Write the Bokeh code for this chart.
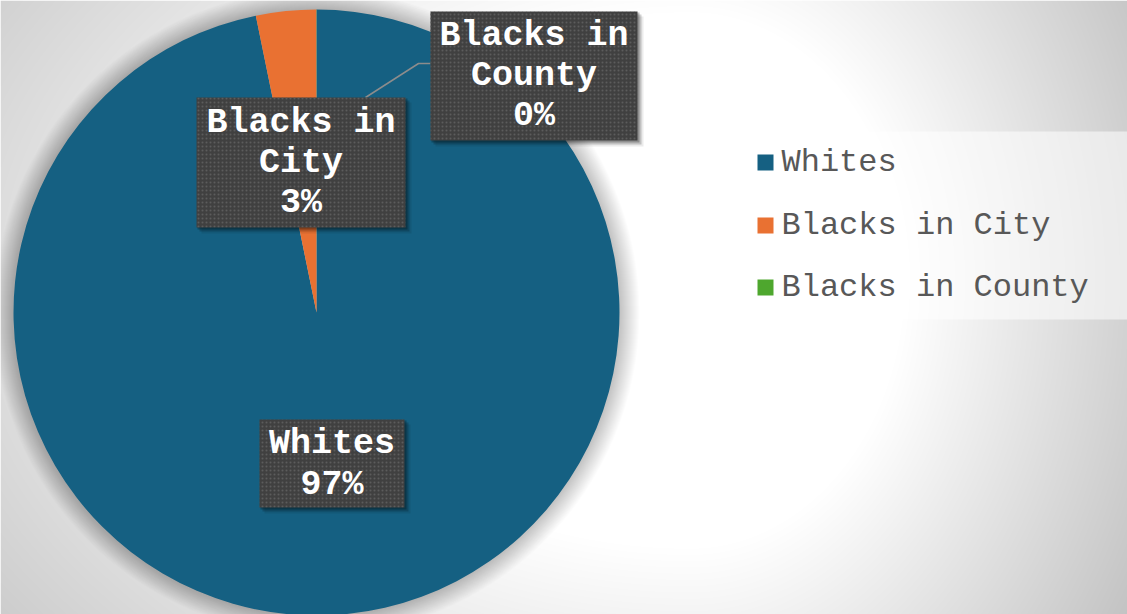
import numpy as np
from bokeh.plotting import figure
from bokeh.models import Range1d
from bokeh.core.properties import value
from bokeh.embed import file_html
from bokeh.resources import INLINE

# ---- data ----
categories = ["Whites", "Blacks in City", "Blacks in County"]
shares = [96.79, 3.20, 0.01]
colors = ["#156082", "#E97132", "#4EA72E"]
label_lines = [["Whites"], ["Blacks in", "City"], ["Blacks in", "County"]]

# ---- layout (screen pixel coordinates of the 1127x614 window) ----
W, H = 1127, 614
def Y(sy):
    return H - sy

pie_cx, pie_cy, pie_r = 316, 312, 303
# label boxes: (left, top, right, bottom), first text line y, line step
boxes = [
    (259, 419, 404, 507, 443, 41),
    (196, 97, 405, 227, 122, 40),
    (430, 11, 637, 140, 35, 40),
]

p = figure(width=W, height=H, output_backend="svg", toolbar_location=None,
           x_range=Range1d(0, W), y_range=Range1d(0, H), min_border=0,
           x_axis_location=None, y_axis_location=None)
p.grid.visible = False
p.outline_line_color = None
p.background_fill_color = "#ffffff"
p.border_fill_color = "#ffffff"

# ---- background gradient ----
xs = np.arange(0, W) + 0.5
ys_data = np.arange(0, H) + 0.5
X, YY = np.meshgrid(xs, ys_data)
SY = H - YY
gx, gy = 690.0, 280.0
dx = X - gx
dx = np.where(dx < 0, dx * 0.55, dx)
dy = (SY - gy) * 0.8
d = np.sqrt(dx ** 2 + dy ** 2)
v = 255 - 0.2 * np.clip(d - 215, 0, None)
v = np.clip(v, 190, 255).astype(np.uint32)
img = (255 << 24) | (v << 16) | (v << 8) | v
p.image_rgba(image=[img.astype(np.uint32)], x=0, y=0, dw=W, dh=H)

# ---- pie shadow ----
for i in range(20, 0, -1):
    p.circle(x=pie_cx, y=Y(pie_cy), radius=pie_r + i, fill_color="black",
             fill_alpha=0.01, line_color=None)

# ---- pie ----
total = sum(shares)
cum = np.concatenate([[0], np.cumsum(shares)])
starts = [np.pi / 2 - 2 * np.pi * cum[i] / total for i in range(len(shares))]
ends = [np.pi / 2 - 2 * np.pi * cum[i + 1] / total for i in range(len(shares))]
p.wedge(x=[pie_cx] * 3, y=[Y(pie_cy)] * 3, radius=pie_r, start_angle=starts,
        end_angle=ends, direction="clock", fill_color=colors, line_color=None)

# ---- leader line for County label ----
p.line(x=[430, 418, 365], y=[Y(63), Y(63), Y(97)], line_color="#8c8c8c", line_width=1.5)

# ---- data labels ----
font = value("Liberation Mono")
for (l, t, r, b, ly, step), lines, s in zip(boxes, label_lines, shares):
    # shadow
    for off, a in [(2, 0.25), (4, 0.18), (6, 0.08)]:
        p.quad(left=l + off - 1, right=r + off, top=Y(t + off - 1), bottom=Y(b + off),
               fill_color="black", fill_alpha=a, line_color=None)
    p.quad(left=l, right=r, top=Y(t), bottom=Y(b), fill_color="#404040",
           line_color=None, hatch_pattern="dot", hatch_color="#5c5c5c",
           hatch_scale=4, hatch_weight=1.5)
    txt = lines + [f"{round(s)}%"]
    cx = (l + r) / 2
    p.text(x=[cx] * len(txt), y=[Y(ly + k * step) for k in range(len(txt))], text=txt,
           text_font=font, text_font_style="bold", text_font_size="35px",
           text_color="white", text_align="center", text_baseline="middle")

# ---- legend ----
p.quad(left=710, right=W, top=Y(131), bottom=Y(319), fill_color="white",
       fill_alpha=0.55, line_color=None)
leg_y = [162, 225, 287]
p.rect(x=[765] * 3, y=[Y(v) for v in leg_y], width=16, height=16,
       fill_color=colors, line_color=None)
p.text(x=[781] * 3, y=[Y(v) for v in leg_y], text=categories, text_font=font,
       text_font_size="32px", text_color="#585858", text_align="left",
       text_baseline="middle")

open("out.html", "w").write(file_html(p, INLINE))
